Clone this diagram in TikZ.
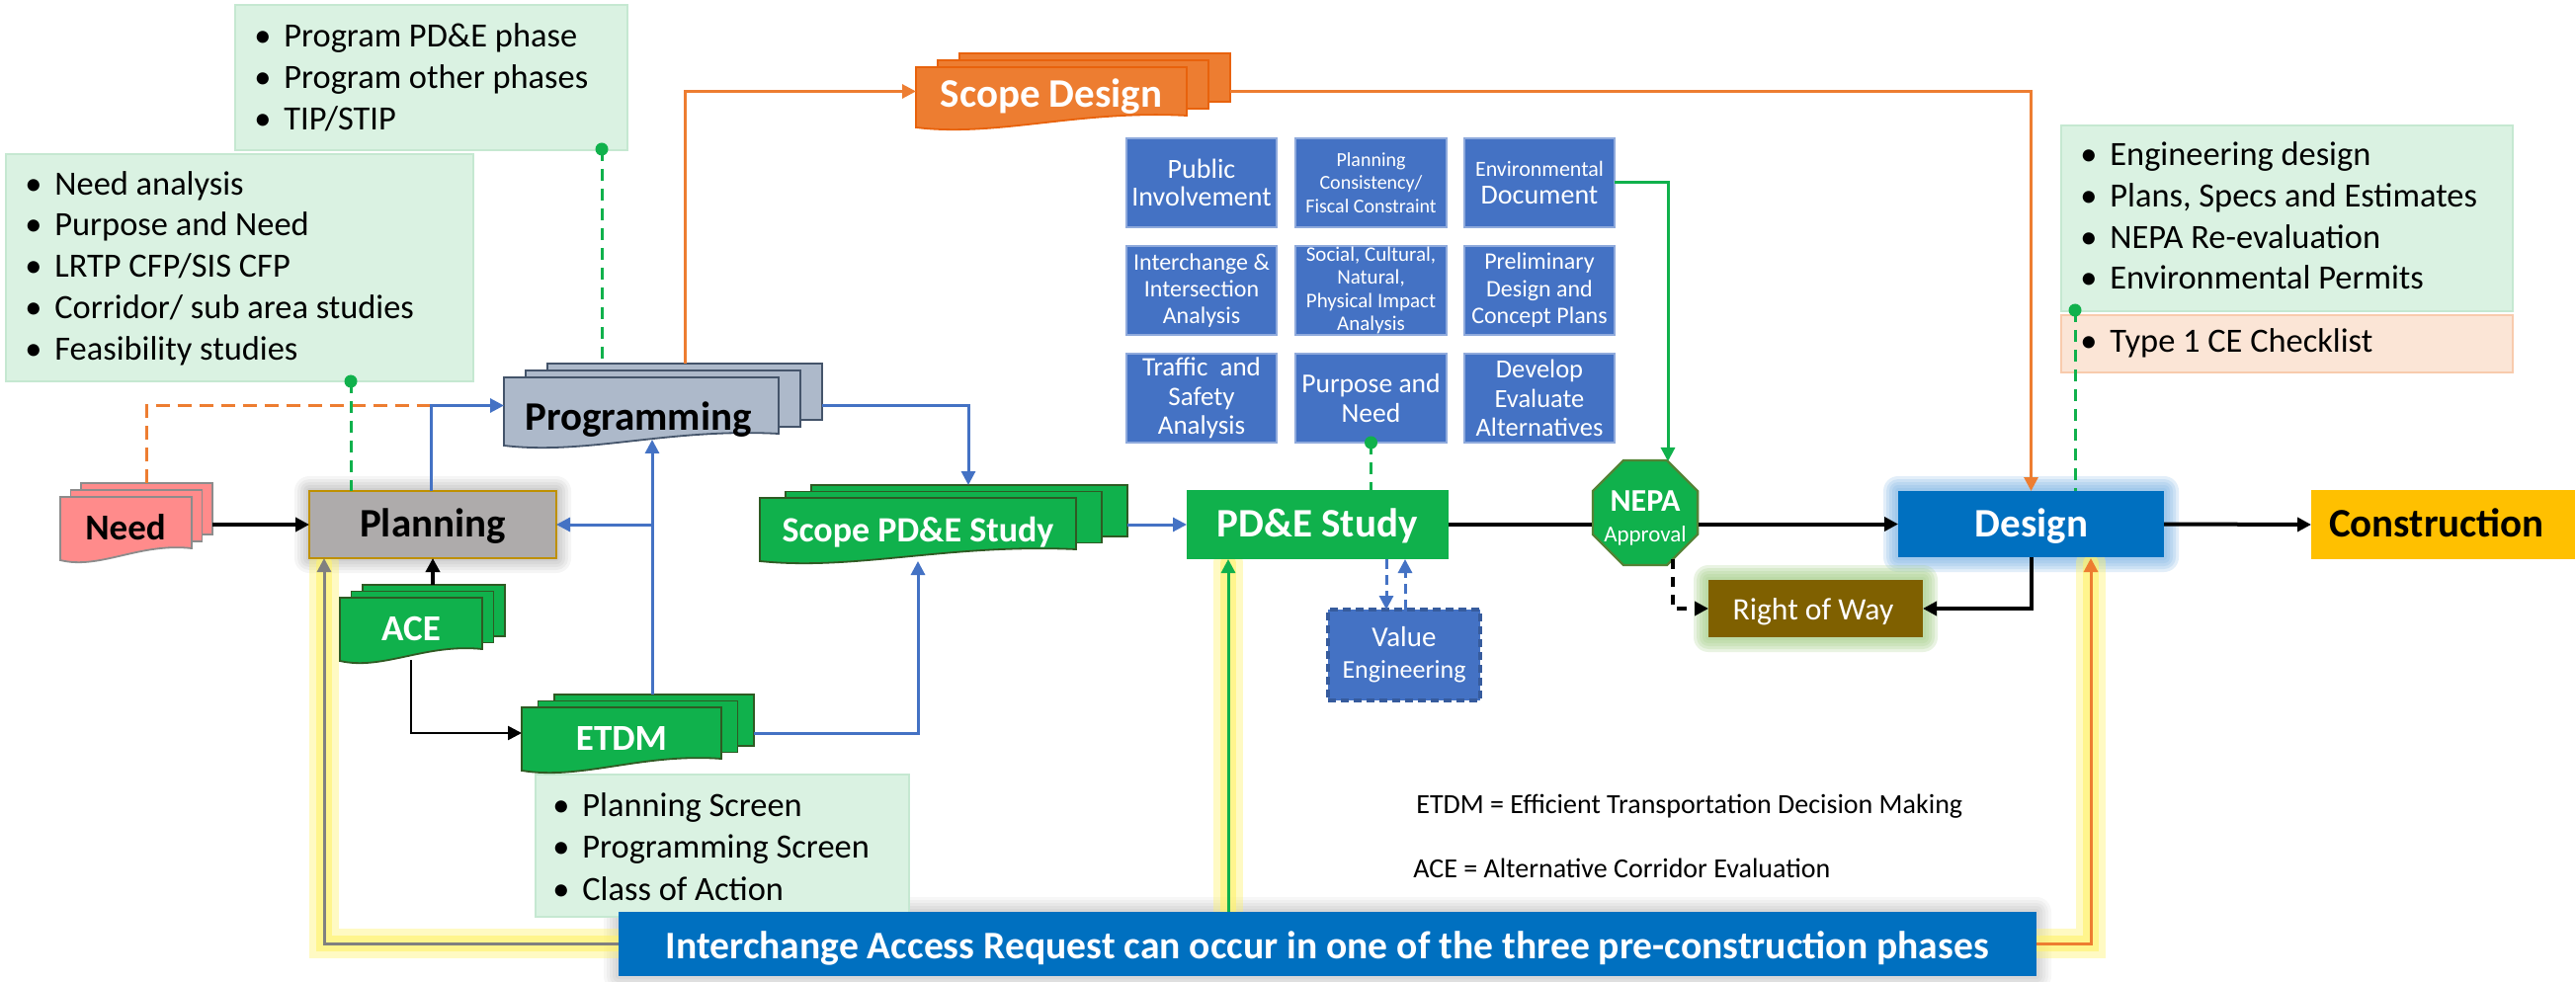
\documentclass[tikz,border=0pt]{standalone}
\usepackage{fontspec}
\setmainfont{Carlito}
\usetikzlibrary{arrows.meta,shapes.geometric}
\definecolor{cblue}{HTML}{4472C4}
\definecolor{cbluel}{HTML}{8FAADC}
\definecolor{cgreen}{HTML}{10B14C}
\definecolor{dgreen}{HTML}{2F5A23}
\definecolor{nepab}{HTML}{548235}
\definecolor{corange}{HTML}{ED7D31}
\definecolor{sdb}{HTML}{E8620C}
\definecolor{notegreen}{HTML}{DAF2E2}
\definecolor{notegreenb}{HTML}{C5E8D1}
\definecolor{peach}{HTML}{FBE5D6}
\definecolor{peachb}{HTML}{F8CBAD}
\definecolor{needfill}{HTML}{FF8B8B}
\definecolor{needb}{HTML}{8C8C8C}
\definecolor{progfill}{HTML}{ADB9CA}
\definecolor{progb}{HTML}{44546A}
\definecolor{planfill}{HTML}{AEABAB}
\definecolor{planb}{HTML}{BF9000}
\definecolor{desblue}{HTML}{0070C0}
\definecolor{gold}{HTML}{FFC000}
\definecolor{brown}{HTML}{7F6000}
\definecolor{glowblue}{HTML}{7FB5E6}
\definecolor{glowgreen}{HTML}{A9D18E}
\definecolor{yglow}{HTML}{FFF36A}
\newcommand{\rbox}[7]{\node[#6, inner sep=0pt, outer sep=0pt, minimum width={(#4-#2)*0.5pt}, minimum height={(#5-#3)*0.5pt}] (#1) at ({(#2+#4)/2},{(#3+#5)/2}) {#7};}
\newcommand{\mdoc}[9]{%
 \path[fill=#8, draw=#9, line width=0.9pt] ({#2+2*#6},{#3-2*#7}) rectangle ({#4+2*#6},{#5-2*#7});
 \path[fill=#8, draw=#9, line width=0.9pt] ({#2+#6},{#3-#7}) rectangle ({#4+#6},{#5-#7});
 \path[fill=#8, draw=#9, line width=0.9pt] (#2,#3) -- (#4,#3) -- (#4,#5) .. controls ({#2+0.6*(#4-#2)},{#5-6}) and ({#2+0.3*(#4-#2)},{#5+22}) .. (#2,{#5+12}) -- cycle;
 \node[inner sep=0pt, outer sep=0pt, minimum width={(#4-#2)*0.5pt}, minimum height={(#5-#3)*0.5pt}] (#1) at ({(#2+#4)/2},{(#3+#5)/2}) {};
}
\newcommand{\glow}[6]{\foreach \g in {3,6,9,12,15}{\fill[#5, opacity=#6, rounded corners={\g*0.5pt}] ({#1-\g},{#2-\g}) rectangle ({#3+\g},{#4+\g});}}
\newcommand{\bl}{\makebox[15pt][l]{\textbullet}}
\begin{document}
\begin{tikzpicture}[x=0.5pt,y=-0.5pt,
 >={Triangle[length=7pt,width=7pt]},
 bl/.style={draw=cblue, line width=1.5pt},
 bk/.style={draw=black, line width=2pt},
 og/.style={draw=corange, line width=1.5pt},
 gn/.style={draw=cgreen, line width=1.5pt},
 gdash/.style={draw=cgreen, line width=1.5pt, dash pattern=on 6pt off 4pt},
 note/.style={fill=notegreen, draw=notegreenb, line width=1pt},
 grid/.style={fill=cblue, draw=cbluel, line width=0.7pt, text=white, align=center},
 ntxt/.style={anchor=base west, inner sep=0pt, font=\fontsize{17.2pt}{20pt}\selectfont},
 big/.style={anchor=base, inner sep=0pt, font=\bfseries\fontsize{20.5pt}{24pt}\selectfont},
 mid/.style={anchor=base, inner sep=0pt, font=\bfseries\fontsize{18.5pt}{22pt}\selectfont},
 dot/.style={circle, fill=cgreen, inner sep=0pt, minimum size=6.5pt}
]
\fill[white] (0,0) rectangle (2607,994);
\useasboundingbox (0,0) rectangle (2607,994);

% glows
\glow{313}{497}{563}{565}{black}{0.04}
\glow{1921}{497}{2190}{564}{glowblue}{0.22}
\glow{1729}{587}{1946}{645}{glowgreen}{0.25}
\glow{626}{923}{2061}{988}{black}{0.03}
\foreach \w/\o in {15/0.4,8/0.6}{
 \draw[yglow, line width=\w pt, opacity=\o, line cap=round] (626,955) -- (328,955) -- (328,570);
 \draw[yglow, line width=\w pt, opacity=\o, line cap=round] (1243,923) -- (1243,570);
 \draw[yglow, line width=\w pt, opacity=\o, line cap=round] (2061,955) -- (2116,955) -- (2116,570);
}

% notes
\rbox{noteA}{238}{5}{635}{152}{note}{}
\node[ntxt] (a1) at (257,48) {\bl Program PD\&E phase};
\node[ntxt] (a2) at (257,90) {\bl Program other phases};
\node[ntxt] (a3) at (257,132) {\bl TIP/STIP};
\rbox{noteB}{6}{156}{479}{386}{note}{}
\node[ntxt] (b1) at (25,198) {\bl Need analysis};
\node[ntxt] (b2) at (25,239) {\bl Purpose and Need};
\node[ntxt] (b3) at (25,281) {\bl LRTP CFP/SIS CFP};
\node[ntxt] (b4) at (25,323) {\bl Corridor/ sub area studies};
\node[ntxt] (b5) at (25,365) {\bl Feasibility studies};
\rbox{noteC}{542}{784}{920}{928}{note}{}
\node[ntxt] (c1) at (559,826) {\bl Planning Screen};
\node[ntxt] (c2) at (559,868) {\bl Programming Screen};
\node[ntxt] (c3) at (559,911) {\bl Class of Action};
\rbox{noteD}{2086}{127}{2543}{315}{note}{}
\node[ntxt] (d1t) at (2105,168) {\bl Engineering design};
\node[ntxt] (d2t) at (2105,210) {\bl Plans, Specs and Estimates};
\node[ntxt] (d3t) at (2105,252) {\bl NEPA Re-evaluation};
\node[ntxt] (d4t) at (2105,293) {\bl Environmental Permits};
\rbox{noteE}{2086}{319}{2543}{377}{fill=peach, draw=peachb, line width=1pt}{}
\node[ntxt] (e1) at (2105,357) {\bl Type 1 CE Checklist};

% grid of PD&E tasks
\rbox{pi}{1140}{140}{1292}{230}{grid, font=\fontsize{14pt}{14.3pt}\selectfont}{Public\\Involvement}
\rbox{pc}{1311}{140}{1464}{230}{grid, font=\fontsize{10pt}{11.6pt}\selectfont}{Planning\\Consistency/\\Fiscal Constraint}
\rbox{ed}{1482}{140}{1634}{230}{grid, font=\fontsize{14pt}{14pt}\selectfont}{\fontsize{11pt}{13pt}\selectfont Environmental\\\fontsize{14pt}{14pt}\selectfont Document}
\rbox{ii}{1140}{249}{1292}{339}{grid, font=\fontsize{12pt}{13.5pt}\selectfont}{Interchange \&\\Intersection\\Analysis}
\rbox{sc}{1311}{249}{1464}{339}{grid, font=\fontsize{10.5pt}{11.75pt}\selectfont}{Social, Cultural,\\Natural,\\Physical Impact\\Analysis}
\rbox{pd}{1482}{249}{1634}{339}{grid, font=\fontsize{12pt}{13.8pt}\selectfont}{Preliminary\\Design and\\Concept Plans}
\rbox{ts}{1140}{358}{1292}{448}{grid, font=\fontsize{13.5pt}{14.75pt}\selectfont}{Traffic~ and\\Safety\\Analysis}
\rbox{pn}{1311}{358}{1464}{448}{grid, font=\fontsize{13.8pt}{14.8pt}\selectfont}{Purpose and\\Need}
\rbox{de}{1482}{358}{1634}{448}{grid, font=\fontsize{13.25pt}{14.8pt}\selectfont}{Develop\\Evaluate\\Alternatives}

% documents
\mdoc{need}{61}{503}{194}{555}{10.5}{7}{needfill}{needb}
\mdoc{prog}{510}{382}{788}{439}{22}{7}{progfill}{progb}
\mdoc{sd}{927}{68}{1201}{117}{22}{7}{corange}{sdb}
\mdoc{spde}{769}{504}{1089}{556}{26}{6.5}{cgreen}{dgreen}
\mdoc{ace}{344}{605}{488}{657}{11.5}{6.5}{cgreen}{dgreen}
\mdoc{etdm}{528}{716}{730}{768}{16.5}{6.5}{cgreen}{dgreen}

% boxes
\rbox{plan}{313}{497}{563}{565}{fill=planfill, draw=planb, line width=1pt}{}
\rbox{pde}{1201}{496}{1466}{566}{fill=cgreen}{}
\rbox{des}{1921}{497}{2190}{564}{fill=desblue}{}
\rbox{con}{2339}{496}{2606}{566}{fill=gold}{}
\rbox{row}{1729}{587}{1946}{645}{fill=brown}{}
\rbox{ve}{1344}{617}{1498}{709}{fill=cblue, draw=cblue!80!black, line width=1.6pt, dash pattern=on 4pt off 2.5pt, text=white, align=center, font=\fontsize{13pt}{16pt}\selectfont}{\fontsize{14.5pt}{16pt}\selectfont Value\\\fontsize{13pt}{16pt}\selectfont Engineering}
\node[regular polygon, regular polygon sides=8, minimum size=57.4pt, inner sep=0pt, fill=cgreen, draw=nepab, line width=1.2pt] (nepa) at (1665,519) {};
\rbox{iar}{626}{923}{2061}{988}{fill=desblue}{}

% connectors
\coordinate (needR) at (215,531);
\draw[bk,->] (needR) -- (plan.west);
\coordinate (needT) at (148,489);
\coordinate (planT) at (436,497);
\draw[draw=corange, line width=1.5pt, dash pattern=on 7pt off 4pt] (needT) |- (planT |- prog.west);
\draw[bl,->] (planT) |- (prog.west);
\coordinate (progT) at (693,368);
\draw[og,->] (progT) |- (sd.west);
\coordinate (sdR) at (1245,92.5);
\draw[og,->] (sdR) -| (des.north);
\coordinate (progR) at (832,410.5);
\coordinate (spdeT) at (980,491);
\draw[bl,->] (progR) -| (spdeT);
\coordinate (spdeR) at (1141,531);
\draw[bl,->] (spdeR) -- (pde.west);
\coordinate (etdmT) at (660,703);
\coordinate (progB) at (660,445);
\draw[bl,->] (etdmT) -- (progB);
\coordinate (jct) at (660,531);
\draw[bl,->] (jct) -- (plan.east);
\coordinate (etdmR) at (763,742);
\coordinate (spdeB) at (929,568);
\draw[bl,->] (etdmR) -| (spdeB);
\coordinate (aceT) at (438,592);
\draw[bk,->] (aceT) -- (plan.south);
\coordinate (aceB) at (416,668);
\draw[draw=black, line width=1.3pt,->] (aceB) |- (etdm.west);
\draw[bk] (pde.east) -- (pde.east -| nepa.west);
\draw[bk,->] (des.west -| nepa.east) -- (des.west);
\draw[bk,->] (des.east) -- (con.west);
\coordinate (nepaT) at (1688,467);
\draw[gn,->] (ed.east) -| (nepaT);
\node[dot] (dotpn) at (pn.south) {};
\draw[gdash] (dotpn.center) -- (pn.south |- pde.north);
\coordinate (veA) at (1403,617);
\coordinate (veB) at (1422,617);
\draw[bl, dash pattern=on 5pt off 3pt, ->] (pde.south -| veA) -- (veA);
\draw[bl, dash pattern=on 5pt off 3pt, ->] (veB) -- (pde.south -| veB);
\coordinate (nepaB) at (1693,566);
\draw[bk, dash pattern=on 5pt off 4pt, ->] (nepaB) |- (row.west);
\draw[bk,->] (des.south) |- (row.east);
\node[dot] (dotA) at (609,151) {};
\coordinate (progTop) at (609,368);
\draw[gdash] (dotA.center) -- (progTop);
\node[dot] (dotB) at (355,386) {};
\draw[gdash] (dotB.center) -- (dotB.center |- plan.north);
\node[dot] (dotD) at (2100,314) {};
\draw[gdash] (dotD.center) -- (dotD.center |- des.north);
\coordinate (planBL) at (328,565);
\draw[draw=gray, line width=1.5pt, ->] (iar.west) -| (planBL);
\coordinate (pdeB) at (1243,566);
\draw[gn,->] (pdeB |- iar.north) -- (pdeB);
\coordinate (desB) at (2116,565);
\draw[og,->] (iar.east) -| (desB);

% labels
\node[mid, text=black] (needL) at (127,546) {Need};
\node[big] (progL) at (646,436) {Programming};
\node[big, text=white] (sdL) at (1064,109) {Scope Design};
\node[anchor=base, inner sep=0pt, text=white, font=\bfseries\fontsize{18pt}{20pt}\selectfont] (spdeL) at (929,548) {Scope PD\&E Study};
\node[mid, text=white] (aceL) at (416,648) {ACE};
\node[mid, text=white] (etdmL) at (629,759) {ETDM};
\node[big] (planL) at (438,543) {Planning};
\node[big, text=white] (pdeL) at (1333,543) {PD\&E Study};
\node[big, text=white] (desL) at (2056,543) {Design};
\node[big] (conL) at (2466,543) {Construction};
\node[anchor=base, inner sep=0pt, text=white, font=\fontsize{15.8pt}{18pt}\selectfont] (rowL) at (1835,627) {Right of Way};
\node[anchor=base, inner sep=0pt, text=white, font=\bfseries\fontsize{16pt}{18pt}\selectfont] (nepaL) at (1665,517) {NEPA};
\node[anchor=base, inner sep=0pt, text=white, font=\fontsize{11.5pt}{13pt}\selectfont] (apprL) at (1665,548) {Approval};
\node[anchor=base, inner sep=0pt, text=white, font=\bfseries\fontsize{19.8pt}{22pt}\selectfont] (iarL) at (1343.5,970) {Interchange Access Request can occur in one of the three pre-construction phases};
\node[anchor=base west, inner sep=0pt, font=\fontsize{14pt}{16pt}\selectfont] (lg1) at (1433,823) {ETDM = Efficient Transportation Decision Making};
\node[anchor=base west, inner sep=0pt, font=\fontsize{14pt}{16pt}\selectfont] (lg2) at (1430,888) {ACE = Alternative Corridor Evaluation};
\end{tikzpicture}
\end{document}
